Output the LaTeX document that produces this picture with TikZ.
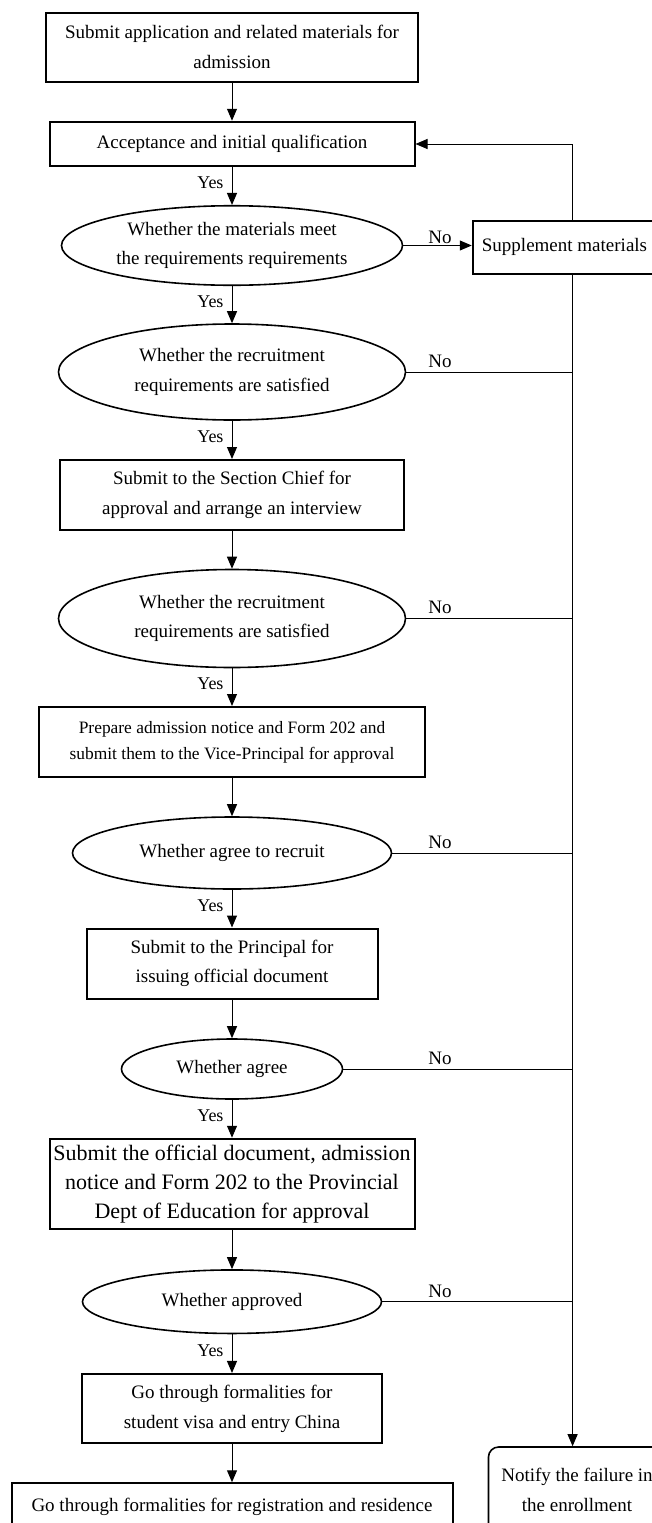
\documentclass[tikz,border=0pt]{standalone}
\usepackage{fontspec}
\setmainfont{Liberation Serif}
\usepackage{tikz}
\usetikzlibrary{arrows.meta, positioning, shapes.geometric}
\tikzset{>={Triangle[length=12pt,width=10pt]}}
\tikzset{
	procbox/.style={draw, line width=2pt, inner sep=0pt, align=center, font=\fontsize{19}{29.5}\selectfont},
	testell/.style={draw, ellipse, line width=1.6pt, inner sep=0pt, align=center, font=\fontsize{19}{29.5}\selectfont},
	yeslbl/.style={left, inner xsep=8pt, inner ysep=0pt, yshift=3pt, font=\fontsize{18}{20}\selectfont},
	nolbl/.style={above, inner sep=4pt, font=\fontsize{19}{20}\selectfont}
}

\begin{document}
\begin{tikzpicture}[x=1pt, y=-1pt, line width=1pt]
		\useasboundingbox (0,0) rectangle (652,1523);
		
		\node (apply) at (232,47) [procbox, minimum width=372, minimum height=69] {Submit application and related materials for\\admission};
		\node (accept) at (232,144) [procbox, minimum width=365, minimum height=44.5] {Acceptance and initial qualification};
		\node (chkmat) at (232,245.5) [testell, minimum width=341, minimum height=79.5] {Whether the materials meet\\the requirements requirements};
		\node (suppl) at (564.5,247) [procbox, minimum width=183.5, minimum height=53] {Supplement materials};
		\node (chkreq) at (232,372) [testell, minimum width=347, minimum height=96] {Whether the recruitment\\requirements are satisfied};
		\node (chief) at (232,495) [procbox, minimum width=344, minimum height=70] {Submit to the Section Chief for\\approval and arrange an interview};
		\node (chkint) at (232,618.5) [testell, minimum width=347, minimum height=98] {Whether the recruitment\\requirements are satisfied};
		\node (prepare) at (232,742) [procbox, minimum width=386, minimum height=70, font=\fontsize{17.4}{25.8}\selectfont] {Prepare admission notice and Form 202 and\\submit them to the Vice-Principal for approval};
		\node (agreerec) at (232,853) [testell, minimum width=319, minimum height=72] {Whether agree to recruit};
		\node (principal) at (232,963.5) [procbox, minimum width=291, minimum height=70] {Submit to the Principal for\\issuing official document};
		\node (agree) at (232,1069) [testell, minimum width=221, minimum height=60] {Whether agree};
		\node (provdept) at (232,1184) [procbox, minimum width=365, minimum height=90.5, font=\fontsize{22}{29}\selectfont] {Submit the official document, admission\\notice and Form 202 to the Provincial\\Dept of Education for approval};
		\node (approved) at (232,1301.7) [testell, minimum width=299, minimum height=63.5] {Whether approved};
		\node (visa) at (232,1408.7) [procbox, minimum width=299.5, minimum height=69.5] {Go through formalities for\\student visa and entry China};
		\node (register) at (232,1507) [procbox, minimum width=441, minimum height=47.5] {Go through formalities for registration and residence};
		\node (notify) at (577,1490) [procbox, line width=1.6pt, rounded corners=10pt, minimum width=177, minimum height=86] {Notify the failure in\\the enrollment};
		\coordinate (nocol) at (440,0);
		\coordinate (bus) at (572.6,0);
		
		\draw [->] (apply) -- (accept);
		\draw [->] (accept) -- node[yeslbl] {Yes} (chkmat);
		\draw [->] (chkmat) -- node[yeslbl] {Yes} (chkreq);
		\draw [->] (chkreq) -- node[yeslbl] {Yes} (chief);
		\draw [->] (chief) -- (chkint);
		\draw [->] (chkint) -- node[yeslbl] {Yes} (prepare);
		\draw [->] (prepare) -- (agreerec);
		\draw [->] (agreerec) -- node[yeslbl] {Yes} (principal);
		\draw [->] (principal) -- (agree);
		\draw [->] (agree) -- node[yeslbl] {Yes} (provdept);
		\draw [->] (provdept) -- (approved);
		\draw [->] (approved) -- node[yeslbl] {Yes} (visa);
		\draw [->] (visa) -- (register);
		
		\draw [->] (chkmat.east) -- (chkmat.east -| suppl.west);
		\node at (chkmat.east -| nocol) [nolbl, inner sep=1pt] {No};
		\draw [->] (suppl.north -| bus) |- (accept.east);
		\draw [->] (suppl.south -| bus) -- (notify.north -| bus);
		
		\draw (chkreq.east) -- (chkreq.east -| bus);
		\node at (chkreq.east -| nocol) [nolbl] {No};
		\draw (chkint.east) -- (chkint.east -| bus);
		\node at (chkint.east -| nocol) [nolbl] {No};
		\draw (agreerec.east) -- (agreerec.east -| bus);
		\node at (agreerec.east -| nocol) [nolbl] {No};
		\draw (agree.east) -- (agree.east -| bus);
		\node at (agree.east -| nocol) [nolbl] {No};
		\draw (approved.east) -- (approved.east -| bus);
		\node at (approved.east -| nocol) [nolbl] {No};
		
\end{tikzpicture}
\end{document}
